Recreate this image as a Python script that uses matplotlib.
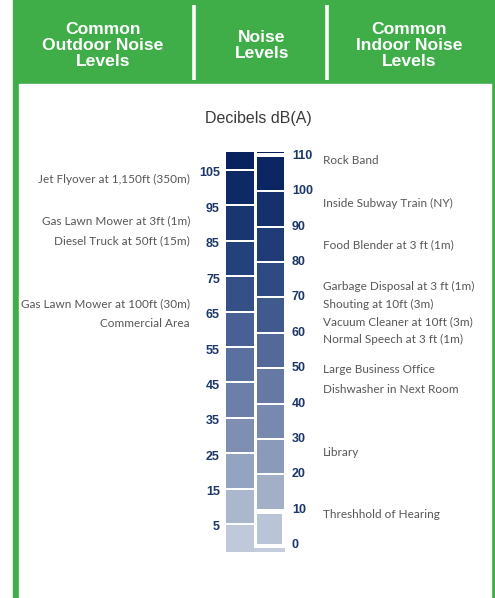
import matplotlib
matplotlib.use("Agg")
import matplotlib.pyplot as plt
from matplotlib import transforms
from matplotlib import font_manager as fm
from matplotlib.patches import Rectangle
from matplotlib.colors import LinearSegmentedColormap

# scale labels, dB(A)
left_ticks = [105, 95, 85, 75, 65, 55, 45, 35, 25, 15, 5]
right_ticks = [110, 100, 90, 80, 70, 60, 50, 40, 30, 20, 10, 0]

# outdoor sources and the level (dB) at which each label sits
outdoor_labels = ["Jet Flyover at 1,150ft (350m)", "Gas Lawn Mower at 3ft (1m)",
                  "Diesel Truck at 50ft (15m)", "Gas Lawn Mower at 100ft (30m)",
                  "Commercial Area"]
outdoor_db = [103.4, 91.7, 86.0, 68.3, 62.5]

indoor_labels = ["Rock Band", "Inside Subway Train (NY)", "Food Blender at 3 ft (1m)",
                 "Garbage Disposal at 3 ft (1m)", "Shouting at 10ft (3m)",
                 "Vacuum Cleaner at 10ft (3m)", "Normal Speech at 3 ft (1m)",
                 "Large Business Office", "Dishwasher in Next Room", "Library",
                 "Threshhold of Hearing"]
indoor_db = [108.6, 96.6, 84.8, 73.0, 68.1, 63.1, 58.2, 49.7, 44.0, 26.2, 8.8]

W, H = 495, 598
green = "#3fae49"
navy = "#1b3668"
grey = "#575757"

names = {f.name for f in fm.fontManager.ttflist}
narrow = next((n for n in ["Liberation Sans Narrow", "Arial Narrow", "Lato", "Roboto"] if n in names),
              "Liberation Sans")

cmap = LinearSegmentedColormap.from_list("noise", ["#c3cddc", "#8595b5", "#52699a", "#213f79", "#06215e"])
ymin, ymax = -3, 112
top_edge, bottom_edge = 111.1, -1.9
gap = 0.55

fig = plt.figure(figsize=(W / 100, H / 100), dpi=100)

# background frame and header
bg = fig.add_axes([0, 0, 1, 1])
bg.set_xlim(0, W)
bg.set_ylim(H, 0)
bg.axis("off")
bg.add_patch(Rectangle((13, 0), W - 13, H, color=green))
bg.add_patch(Rectangle((19, 84), 472, H, color="white"))
for xs in (193.5, 326.5):
    bg.plot([xs, xs], [5, 80], color="white", lw=2.6, solid_capstyle="butt")
hdr = dict(ha="center", va="center", color="white", fontweight="bold",
           fontsize=12.6, linespacing=1.08, family="Liberation Sans")
bg.text(103, 45.5, "Common\nOutdoor Noise\nLevels", **hdr)
bg.text(262, 45.5, "Noise\nLevels", **hdr)
bg.text(409, 45.5, "Common\nIndoor Noise\nLevels", **hdr)
bg.text(258, 118, "Decibels dB(A)", ha="center", va="center", color="#3a3a3a",
        fontsize=11.5, family="Liberation Sans")

# the staggered dB bar
y0 = 350.5 + 3.54 * (55 - ymin)
y1 = 350.5 - 3.54 * (ymax - 55)
ax = fig.add_axes([224.75 / W, (H - y0) / H, 61 / W, (y0 - y1) / H])
ax.set_xlim(-0.5, 1.5)
ax.set_ylim(ymin, ymax)
ax.axis("off")

def block(x, lo, hi, width=0.9, **kw):
    mid = (lo + hi) / 2
    ax.bar(x, hi - lo - gap, bottom=lo + gap / 2, width=width,
           color=cmap(min(max(mid, 0), 110) / 110), linewidth=0, **kw)

# left column: each label marks the top of its 10 dB block
block(0, left_ticks[0] + 1, top_edge + gap / 2)
for v in left_ticks:
    block(0, max(v - 9, bottom_edge - gap / 2), v + 1)

# right column
ax.bar(1, 0.45, bottom=top_edge - 0.45, width=0.9, color=cmap(1.0), linewidth=0)
for v in right_ticks:
    if v >= 20:
        block(1, v - 10, v)
    elif v == 10:
        block(0.97, 0.2, v - 0.8, width=0.82)
ax.bar(0.96, 1.25, bottom=bottom_edge, width=1.0, color=cmap(0.0), linewidth=0)

trans = transforms.blended_transform_factory(fig.transFigure, ax.transData)
num = dict(color=navy, fontweight="bold", fontsize=9, family="Liberation Sans",
           va="center", transform=trans, clip_on=False)
for v in left_ticks:
    ax.text(220 / W, v, str(v), ha="right", **num)
for v in right_ticks:
    ax.text(292 / W, v, str(v), ha="left", **num)

lab = dict(color=grey, fontsize=8.5, family=narrow, va="center",
           transform=trans, clip_on=False)
for t, v in zip(outdoor_labels, outdoor_db):
    ax.text(190 / W, v, t, ha="right", **lab)
for t, v in zip(indoor_labels, indoor_db):
    ax.text(323 / W, v, t, ha="left", **lab)

fig.savefig("out.png", dpi=100)
